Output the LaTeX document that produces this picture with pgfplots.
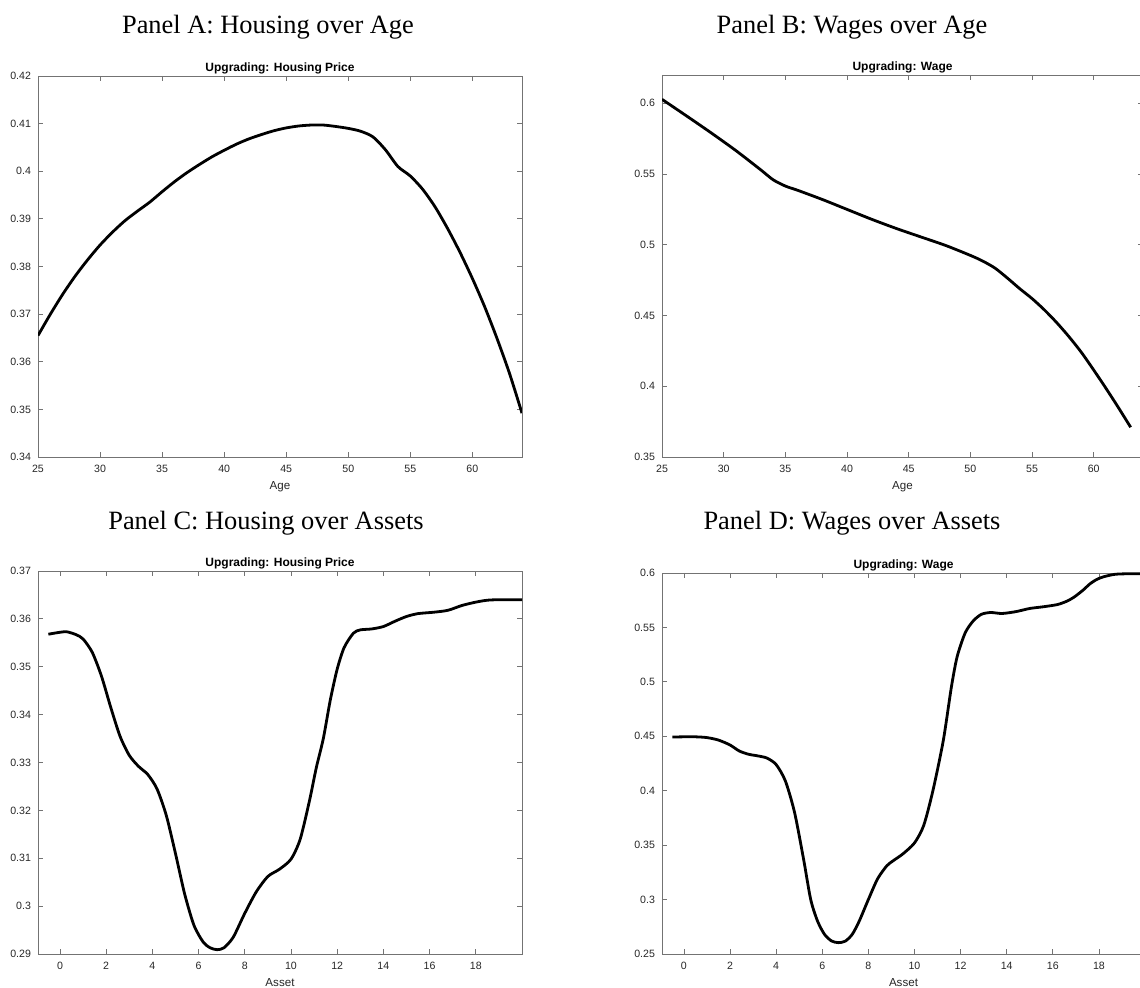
\documentclass[border=0pt]{standalone}
\usepackage{fontspec}
\setmainfont{Liberation Sans}
\newfontfamily\panelfont{Liberation Serif}
\usepackage{pgfplots}
\pgfplotsset{compat=1.18}

\definecolor{axgray}{gray}{0.45}
\definecolor{lblgray}{gray}{0.15}

\pgfplotsset{
  mlab/.style={
    scale only axis,
    anchor=south west,
    axis line style={axgray, line width=0.4pt},
    every tick/.style={axgray, line width=0.4pt},
    tick align=inside,
    major tick length=2.6pt,
    tick label style={font=\fontsize{5.3}{6}\selectfont, text=lblgray},
    label style={font=\fontsize{5.8}{7}\selectfont, text=lblgray},
    every axis title shift=0pt,
    title style={font=\bfseries\fontsize{6}{7}\selectfont, at={(0.5,1)}, anchor=south, inner sep=1.2pt, yshift=-0.5pt},
    /pgf/number format/assume math mode=true,
    scaled ticks=false,
    xticklabel style={yshift=-0.5pt},
    xlabel style={yshift=2.5pt},
  },
  curve/.style={black, line width=1.4pt, mark=none, smooth, tension=0.45},
}

% Housing price along the age profile
\pgfplotstableread{
x y
25 0.3655
26 0.3700
27 0.3742
28 0.3780
29 0.3814
30 0.3845
31 0.3872
32 0.3896
33 0.3916
34 0.3935
35 0.3957
36 0.3978
37 0.3997
38 0.4014
39 0.4030
40 0.4044
41 0.4057
42 0.4068
43 0.4077
44 0.4085
45 0.4091
46 0.4095
47 0.4097
48 0.4097
49 0.4094
50 0.4090
51 0.4084
52 0.4072
53 0.4045
54 0.4010
55 0.3990
56 0.3962
57 0.3925
58 0.3880
59 0.3830
60 0.3775
61 0.3715
62 0.3648
63 0.3575
64 0.3492
}\hpage

% Wage along the age profile
\pgfplotstableread{
x y
25 0.6028
27 0.5910
29 0.5790
31 0.5665
33 0.5530
34 0.5460
35 0.5415
36 0.5385
38 0.5320
40 0.5250
42 0.5180
44 0.5115
46 0.5055
48 0.4995
50 0.4925
51 0.4885
52 0.4835
53 0.4765
54 0.4690
55 0.4620
56 0.4540
57 0.4450
58 0.4350
59 0.4240
60 0.4115
61 0.3985
62 0.3850
63 0.3710
}\wpage

% Housing price along the asset grid
\pgfplotstableread{
x y
-0.5 0.3568
0.0 0.3572
0.3 0.3573
0.7 0.3567
1.0 0.3558
1.4 0.3530
1.8 0.3480
2.2 0.3415
2.6 0.3355
3.0 0.3315
3.4 0.3292
3.8 0.3275
4.2 0.3245
4.6 0.3190
5.0 0.3110
5.4 0.3025
5.8 0.2960
6.2 0.2925
6.5 0.2913
6.8 0.2909
7.1 0.2913
7.5 0.2935
8.0 0.2985
8.5 0.3030
9.0 0.3062
9.5 0.3077
10.0 0.3098
10.4 0.3140
10.8 0.3220
11.1 0.3290
11.4 0.3350
11.7 0.3430
12.0 0.3495
12.3 0.3540
12.7 0.3570
13.0 0.3577
13.5 0.3579
14.0 0.3584
14.5 0.3595
15.0 0.3605
15.5 0.3611
16.2 0.3614
16.8 0.3618
17.4 0.3628
18.0 0.3635
18.5 0.3639
19.0 0.3640
20.0 0.3640
}\hasset

% Wage along the asset grid
\pgfplotstableread{
x y
-0.5 0.4493
0.0 0.4495
0.5 0.4495
1.0 0.4488
1.5 0.4465
2.0 0.4420
2.4 0.4365
2.8 0.4335
3.2 0.4320
3.6 0.4300
4.0 0.4240
4.4 0.4090
4.8 0.3800
5.2 0.3360
5.5 0.3000
5.8 0.2800
6.1 0.2680
6.4 0.2620
6.7 0.2604
7.0 0.2618
7.3 0.2680
7.6 0.2800
8.0 0.3000
8.4 0.3190
8.8 0.3310
9.1 0.3360
9.5 0.3420
10.0 0.3520
10.4 0.3680
10.8 0.4000
11.25 0.4460
11.6 0.4950
11.85 0.5230
12.2 0.5450
12.55 0.5560
12.9 0.5620
13.3 0.5637
13.8 0.5628
14.4 0.5645
15.0 0.5674
15.6 0.5690
16.2 0.5710
16.6 0.5740
16.9 0.5775
17.3 0.5840
17.6 0.5898
17.9 0.5940
18.2 0.5965
18.7 0.5988
19.3 0.5993
20.0 0.5993
}\wasset

\begin{document}
\begin{tikzpicture}

% Panel A
\begin{axis}[mlab, at={(19pt,265.5pt)}, width=242pt, height=190.5pt,
  xmin=25, xmax=64, ymin=0.34, ymax=0.42,
  xtick={25,30,35,40,45,50,55,60},
  ytick={0.34,0.35,0.36,0.37,0.38,0.39,0.40,0.41,0.42},
  xlabel={Age}, title={Upgrading: Housing Price}]
\addplot[curve] table[x=x,y=y]{\hpage};
\end{axis}

% Panel B
\begin{axis}[mlab, at={(331pt,265.5pt)}, width=240.5pt, height=191pt,
  xmin=25, xmax=64, ymin=0.35, ymax=0.62,
  xtick={25,30,35,40,45,50,55,60},
  ytick={0.35,0.40,0.45,0.50,0.55,0.60},
  xlabel={Age}, title={Upgrading: Wage}]
\addplot[curve] table[x=x,y=y]{\wpage};
\end{axis}

% Panel C
\begin{axis}[mlab, at={(19pt,17pt)}, width=242pt, height=191.5pt,
  xmin=-0.95, xmax=20, ymin=0.29, ymax=0.37,
  xtick={0,2,4,6,8,10,12,14,16,18},
  ytick={0.29,0.30,0.31,0.32,0.33,0.34,0.35,0.36,0.37},
  xlabel={Asset}, title={Upgrading: Housing Price}]
\addplot[curve] table[x=x,y=y]{\hasset};
\end{axis}

% Panel D
\begin{axis}[mlab, at={(331pt,17pt)}, width=241.5pt, height=190.5pt,
  xmin=-0.95, xmax=20, ymin=0.25, ymax=0.60,
  xtick={0,2,4,6,8,10,12,14,16,18},
  ytick={0.25,0.30,0.35,0.40,0.45,0.50,0.55,0.60},
  xlabel={Asset}, title={Upgrading: Wage}]
\addplot[curve] table[x=x,y=y]{\wasset};
\end{axis}

% Panel headings
\begin{scope}[every node/.style={font=\panelfont\fontsize{13.2}{15}\selectfont, inner sep=0pt}]
\node at (134pt,480.5pt) {Panel A: Housing over Age};
\node at (426pt,480.5pt) {Panel B: Wages over Age};
\node at (133pt,232.5pt) {Panel C: Housing over Assets};
\node at (426pt,232.5pt) {Panel D: Wages over Assets};
\end{scope}

\pgfresetboundingbox
\useasboundingbox (0,0) rectangle (570pt,494pt);
\end{tikzpicture}
\end{document}
